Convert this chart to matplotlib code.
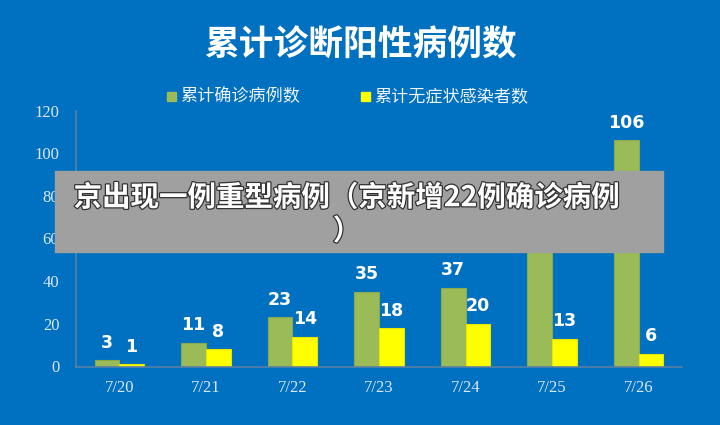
import matplotlib
matplotlib.use("Agg")
import matplotlib.pyplot as plt
import matplotlib.patheffects as pe
import numpy as np

categories = ["7/20", "7/21", "7/22", "7/23", "7/24", "7/25", "7/26"]
confirmed = [3, 11, 23, 35, 37, 59, 106]
asymptomatic = [1, 8, 14, 18, 20, 13, 6]
series_names = ["累计确诊病例数", "累计无症状感染者数"]
title = "累计诊断阳性病例数"
banner = "京出现一例重型病例（京新增22例确诊病例\n）"
yticks = [0, 20, 40, 60, 80, 100, 120]

plt.rcParams['font.family'] = ['Noto Sans CJK SC', 'DejaVu Sans']

bg = "#0070c0"
green = "#9bbb59"
yellow = "#ffff00"
fig = plt.figure(figsize=(7.2, 4.25), dpi=100, facecolor=bg)
ax = fig.add_axes([76/720, 1-366.5/425, 606/720, 256/425], facecolor=bg)

x = np.arange(len(categories))
w = 0.285
ax.bar(x - w/2, confirmed, w, color=green, edgecolor="#8aa84c", linewidth=0.8)
ax.bar(x + w/2, asymptomatic, w, color=yellow, edgecolor="#e6e600", linewidth=0.8)

lab_font = dict(family=['DejaVu Sans'], fontweight='bold',
                fontsize=12.5, color='white', ha='center', va='bottom')
for xi, v in zip(x - w/2, confirmed):
    ax.text(xi, v + 4, str(v), **lab_font)
for xi, v in zip(x + w/2, asymptomatic):
    ax.text(xi, v + 4, str(v), **lab_font)

ax.set_xlim(-0.5, len(categories) - 0.5)
ax.set_ylim(0, 120)
ax.set_yticks(yticks)
ax.set_xticks(x)
ax.set_xticklabels(categories)
for lab in ax.get_xticklabels() + ax.get_yticklabels():
    lab.set_family(['Liberation Serif', 'DejaVu Serif'])
    lab.set_fontsize(12)
    lab.set_color('#dce8f6')
ax.tick_params(axis='both', length=0)
ax.tick_params(axis='x', pad=10)
ax.tick_params(axis='y', pad=12)
for s in ['top', 'right']:
    ax.spines[s].set_visible(False)
for s in ['left', 'bottom']:
    ax.spines[s].set_color('#5a7fa6')
    ax.spines[s].set_linewidth(1.2)

fig.text(0.5, 1-45/425, title, ha='center', va='center', fontsize=25,
         fontweight='heavy', color='white')

# legend
fig.patches.append(plt.Rectangle((167/720, 1-101/425), 9/720, 9/425, transform=fig.transFigure,
                                 color=green))
fig.text(180/720, 1-96/425, series_names[0], ha='left', va='center', fontsize=12.3, color='#eef4fb')
fig.patches.append(plt.Rectangle((361/720, 1-101/425), 9/720, 9/425, transform=fig.transFigure,
                                 color=yellow))
fig.text(374/720, 1-96/425, series_names[1], ha='left', va='center', fontsize=12.3, color='#eef4fb')

# banner overlay
fig.patches.append(plt.Rectangle((55/720, 1-252/425), 608/720, 81/425, transform=fig.transFigure,
                                 color='#a0a0a0', zorder=10))
t = fig.text(347/720, 1-215/425, banner, ha='center', va='center', fontsize=20.5,
             fontweight='heavy', color='white', zorder=11, linespacing=1.25,
             multialignment='center')
t.set_path_effects([pe.withStroke(linewidth=1.8, foreground='#333333')])

fig.savefig("out.png", dpi=100, facecolor=bg)
